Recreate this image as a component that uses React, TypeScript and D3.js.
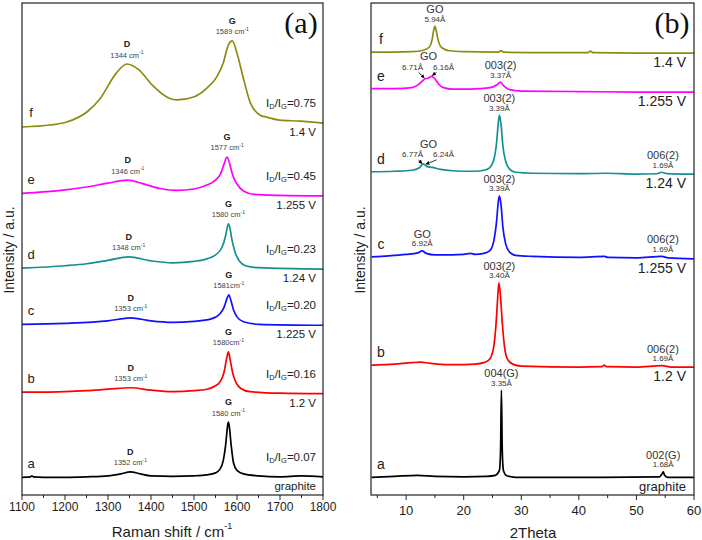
import React from 'react';
import * as d3 from 'd3';

type Pt = [number, number];

// ---------- Panel (a): Raman spectra [Raman shift (cm-1), intensity (a.u.)] ----------
const ramanA: Pt[] = [[1100,3.6],[1120,3.7],[1123,3.9],[1126,3.7],[1150,3.6],[1200,3.6],[1250,3.7],[1300,3.9],[1330,4.3],[1352,4.7],[1375,4.3],[1400,3.9],[1450,3.8],[1500,3.9],[1530,4.1],[1550,4.5],[1560,5.2],[1568,7.0],[1574,10.5],[1578,14.0],[1580,14.8],[1582,14.0],[1586,10.5],[1592,6.5],[1600,5.0],[1615,4.3],[1650,3.9],[1700,3.7],[1750,3.9],[1800,3.7]];
const ramanB: Pt[] = [[1100,20.9],[1150,20.9],[1200,21.0],[1250,21.2],[1300,21.5],[1353,21.8],[1400,21.3],[1450,21.0],[1500,21.2],[1530,21.5],[1550,22.2],[1562,23.2],[1570,25.0],[1576,27.8],[1580,29.1],[1584,27.5],[1590,24.8],[1598,22.8],[1610,21.6],[1630,21.0],[1700,20.7],[1800,20.6]];
const ramanC: Pt[] = [[1100,34.7],[1200,34.9],[1300,35.4],[1353,36.0],[1400,35.4],[1450,35.1],[1500,35.3],[1540,35.8],[1560,36.8],[1570,38.2],[1577,40.0],[1581,40.7],[1585,39.8],[1592,37.6],[1600,36.2],[1615,35.2],[1650,34.7],[1800,34.5]];
const ramanD: Pt[] = [[1100,46.1],[1200,46.6],[1250,47.0],[1300,47.7],[1348,48.4],[1400,47.6],[1450,47.2],[1500,47.5],[1530,48.0],[1550,48.8],[1565,50.3],[1573,52.5],[1578,54.6],[1580,55.1],[1583,54.5],[1588,52.0],[1595,49.5],[1605,47.6],[1620,46.6],[1650,46.2],[1800,45.9]];
const ramanE: Pt[] = [[1100,61.3],[1150,61.6],[1200,62.0],[1250,62.6],[1300,63.4],[1346,64.0],[1380,63.3],[1420,62.3],[1460,61.9],[1500,62.2],[1530,63.0],[1550,64.0],[1562,65.3],[1570,67.3],[1577,68.7],[1583,67.3],[1590,65.0],[1600,63.2],[1615,61.8],[1640,61.1],[1700,60.9],[1800,60.8]];
const ramanF: Pt[] = [[1100,74.8],[1165,75.2],[1204,75.8],[1253,78.0],[1281,80.5],[1318,85.6],[1344,87.6],[1372,86.4],[1403,83.3],[1441,80.7],[1460,80.3],[1499,80.9],[1530,82.7],[1553,85.0],[1568,87.8],[1580,91.5],[1589,92.3],[1600,89.8],[1616,84.3],[1631,79.7],[1654,77.2],[1669,76.8],[1700,76.2],[1746,76.0],[1800,75.6]];

const ramanSeries = [ramanA, ramanB, ramanC, ramanD, ramanE, ramanF];
const sampleLetters = ['a', 'b', 'c', 'd', 'e', 'f'];
const ramanConditions = ['graphite', '1.2 V', '1.225 V', '1.24 V', '1.255 V', '1.4 V'];
const ramanRatios = ['0.07', '0.16', '0.20', '0.23', '0.45', '0.75'];
const ramanDPeaks = [1352, 1353, 1353, 1348, 1346, 1344];
const ramanGPeaks = [1580, 1580, 1581, 1580, 1577, 1589];
const ramanDLabels = ['1352 cm', '1353 cm', '1353 cm', '1348 cm', '1346 cm', '1344 cm'];
const ramanGLabels = ['1580 cm', '1580cm', '1581cm', '1580 cm', '1577 cm', '1589 cm'];
const ramanTicks = [1100, 1200, 1300, 1400, 1500, 1600, 1700, 1800];

// ---------- Panel (b): XRD patterns [2Theta (deg), intensity (a.u.)] ----------
const xrdA: Pt[] = [[4,3.6],[8,3.8],[12,4.0],[15,3.8],[20,3.7],[24,3.8],[25.5,4.0],[26.2,5.0],[26.4,9.0],[26.55,21.3],[26.7,9.0],[26.9,5.0],[27.5,3.9],[29,3.6],[40,3.6],[44,3.6],[54,3.7],[54.4,4.2],[54.65,4.7],[54.9,4.0],[55.4,3.6],[60,3.6]];
const xrdB: Pt[] = [[4,26.4],[8,26.6],[11,26.9],[12.5,27.0],[14,26.8],[17,26.5],[20,26.5],[22,26.6],[23.5,26.9],[24.5,27.6],[25.2,30.0],[25.6,34.5],[25.9,40.0],[26.1,43.1],[26.35,41.0],[26.7,35.0],[27.1,30.0],[27.6,27.6],[28.5,26.6],[30,26.2],[40,26.0],[44,26.1],[44.4,26.4],[44.8,26.1],[50,26.0],[54.5,26.3],[56,26.0],[60,26.0]];
const xrdC: Pt[] = [[4,48.4],[7,48.6],[10,48.9],[12,49.2],[12.8,49.6],[13.5,49.1],[15,48.8],[18,48.8],[20,48.9],[21.2,49.1],[22,48.9],[23.5,49.1],[24.5,49.6],[25.2,51.5],[25.7,55.5],[26.0,59.5],[26.2,60.8],[26.5,58.8],[26.8,54.5],[27.3,51.0],[28,49.3],[29,48.7],[32,48.5],[40,48.3],[44.5,48.5],[45,48.3],[50,48.2],[54.4,48.5],[55.5,48.2],[60,48.0]];
const xrdD: Pt[] = [[4,65.7],[8,65.8],[11,66.0],[12.3,66.5],[13.0,67.3],[13.6,66.8],[14.5,66.6],[16,66.2],[18,65.9],[20,65.8],[22,65.8],[23.5,66.0],[24.5,66.5],[25.2,68.0],[25.7,71.5],[26.0,75.5],[26.2,77.2],[26.5,75.2],[26.8,71.0],[27.3,67.8],[28,66.2],[29,65.6],[32,65.4],[40,65.3],[44.5,65.4],[50,65.2],[53.5,65.3],[54.4,65.6],[55.3,65.3],[60,65.2]];
const xrdE: Pt[] = [[4,82.6],[8,82.6],[11,82.8],[12,83.3],[12.7,84.0],[13.3,84.6],[13.8,84.7],[14.4,85.1],[15.0,84.6],[15.6,83.6],[16.5,82.8],[18,82.5],[21,82.5],[23,82.6],[25,82.9],[25.8,83.4],[26.4,83.9],[27,83.1],[28,82.4],[30,82.1],[40,82.0],[50,81.9],[60,81.9]];
const xrdF: Pt[] = [[4,90.0],[8,90.0],[11,90.1],[13,90.4],[14,91.0],[14.5,92.5],[14.8,94.5],[15.0,95.3],[15.2,94.5],[15.6,92.3],[16.2,90.9],[17.5,90.3],[20,90.1],[26,90.0],[26.5,90.3],[27,90.0],[35,89.9],[41.5,89.9],[42,90.2],[42.5,89.9],[50,89.8],[60,89.8]];

const xrdSeries = [xrdA, xrdB, xrdC, xrdD, xrdE, xrdF];
const xrdConditions = ['graphite', '1.2 V', '1.255 V', '1.24 V', '1.255 V', '1.4 V'];
const xrdTicks = [10, 20, 30, 40, 50, 60];
const xrdPeakSample = [5, 4, 3, 3, 2, 2, 2, 1, 1, 0, 0];
const xrdPeakPos = [15.0, 26.4, 26.2, 54.6, 12.8, 26.2, 54.6, 26.2, 54.6, 26.55, 54.65];
const xrdPeakNames = ['GO', '003(2)', '003(2)', '006(2)', 'GO', '003(2)', '006(2)', '003(2)', '006(2)', '004(G)', '002(G)'];
const xrdPeakD = ['5.94Å', '3.37Å', '3.39Å', '1.69Å', '6.92Å', '3.39Å', '1.69Å', '3.40Å', '1.69Å', '3.35Å', '1.68Å'];
// split GO reflections (samples e and d)
const goSample = [4, 3];
const goCenter = [13.9, 13.9];
const goLeftPeak = [13.3, 12.9];
const goRightPeak = [14.4, 13.3];
const goLeftD = ['6.71Å', '6.77Å'];
const goRightD = ['6.16Å', '6.24Å'];

const colors = ['#000000', '#ff0000', '#1010ff', '#159090', '#ff00ff', '#8c8c14'];
const FONT = 'Liberation Sans, Arial, sans-serif';

function peakVal(s: Pt[], pos: number, tol = 0.8): number {
  return d3.max(s.filter(d => Math.abs(d[0] - pos) <= tol), d => d[1]) ?? 0;
}
function valAt(s: Pt[], pos: number): number {
  for (let i = 0; i < s.length - 1; i++) {
    if (pos >= s[i][0] && pos <= s[i + 1][0]) {
      const t = (pos - s[i][0]) / (s[i + 1][0] - s[i][0]);
      return s[i][1] + t * (s[i + 1][1] - s[i][1]);
    }
  }
  return s[s.length - 1][1];
}

export default function App() {
  const top = 3, bottom = 495;
  const xA = d3.scaleLinear().domain([1100, 1800]).range([22, 323]);
  const xB = d3.scaleLinear().domain([3.9, 60]).range([371, 694]);
  const y = d3.scaleLinear().domain([0, 100]).range([bottom, top]);
  const lineA = d3.line<Pt>().x(d => xA(d[0])).y(d => y(d[1])).curve(d3.curveMonotoneX);
  const lineB = d3.line<Pt>().x(d => xB(d[0])).y(d => y(d[1])).curve(d3.curveMonotoneX);
  const minorA = d3.range(1150, 1800, 100);
  const minorB = d3.range(5, 60, 10);
  const sub = (t: string) => <tspan fontSize={7.5} dy={3}>{t}</tspan>;

  return (
    <svg width={702} height={540} style={{ position: 'absolute', left: 0, top: 0, background: '#fff' }} fontFamily={FONT}>
      <defs>
        <marker id="arr" viewBox="0 0 6 6" refX={5} refY={3} markerWidth={5} markerHeight={5} orient="auto">
          <path d="M0,0 L6,3 L0,6 z" fill="#000" />
        </marker>
      </defs>
      <rect width={702} height={540} fill="#fff" />

      {/* ---------------- Panel (a) ---------------- */}
      <g>
        {ramanSeries.map((s, i) => (
          <path key={i} d={lineA(s) ?? ''} fill="none" stroke={colors[i]} strokeWidth={1.7} />
        ))}
        {ramanSeries.map((s, i) => {
          const last = y(s[s.length - 1][1]);
          const first = y(s[0][1]);
          const dY = y(peakVal(s, ramanDPeaks[i], 15));
          const gY = y(peakVal(s, ramanGPeaks[i], 5));
          return (
            <g key={'la' + i}>
              <text x={31} y={first - 14} fontSize={13} textAnchor="middle" dominantBaseline="central" fill="#222">{sampleLetters[i]}</text>
              <text x={316} y={last + 9} fontSize={11.5} textAnchor="end" dominantBaseline="central" fill="#222">{ramanConditions[i]}</text>
              <text x={316} y={last - 20} fontSize={11.5} textAnchor="end" dominantBaseline="central" fill="#222">
                I{sub('D')}<tspan dy={-3}>/I</tspan>{sub('G')}<tspan dy={-3}>={ramanRatios[i]}</tspan>
              </text>
              <text x={xA(ramanDPeaks[i])} y={dY - 20} fontSize={9} fontWeight="bold" textAnchor="middle" dominantBaseline="central" fill="#222">D</text>
              <text x={xA(ramanDPeaks[i])} y={dY - 9} fontSize={7.5} textAnchor="middle" dominantBaseline="central" fill="#444">
                {ramanDLabels[i]}<tspan fontSize={5} dy={-3}>-1</tspan>
              </text>
              <text x={xA(ramanGPeaks[i])} y={gY - 20} fontSize={9} fontWeight="bold" textAnchor="middle" dominantBaseline="central" fill="#222">G</text>
              <text x={xA(ramanGPeaks[i])} y={gY - 9} fontSize={7.5} textAnchor="middle" dominantBaseline="central" fill="#444">
                {ramanGLabels[i]}<tspan fontSize={5} dy={-3}>-1</tspan>
              </text>
            </g>
          );
        })}
        <rect x={22} y={top} width={301} height={bottom - top} fill="none" stroke="#222" strokeWidth={1.2} />
        {ramanTicks.map(t => (
          <g key={'ta' + t}>
            <line x1={xA(t)} x2={xA(t)} y1={bottom} y2={bottom + 5} stroke="#222" />
            <text x={xA(t)} y={bottom + 12} fontSize={12} textAnchor="middle" dominantBaseline="central" fill="#222">{t}</text>
          </g>
        ))}
        {minorA.map(t => (
          <line key={'ma' + t} x1={xA(t)} x2={xA(t)} y1={bottom} y2={bottom + 3} stroke="#222" />
        ))}
        <text x={172} y={531} fontSize={15} textAnchor="middle" dominantBaseline="central" fill="#222">
          Raman shift / cm<tspan fontSize={9} dy={-5}>-1</tspan>
        </text>
        <text transform="translate(9,250) rotate(-90)" fontSize={14} textAnchor="middle" dominantBaseline="central" fill="#222">Intensity / a.u.</text>
        <text x={301} y={22} fontSize={30} fontFamily="Liberation Serif, Times New Roman, serif" textAnchor="middle" dominantBaseline="central" fill="#111">(a)</text>
      </g>

      {/* ---------------- Panel (b) ---------------- */}
      <g>
        {xrdSeries.map((s, i) => (
          <path key={i} d={lineB(s) ?? ''} fill="none" stroke={colors[i]} strokeWidth={1.7} />
        ))}
        {xrdSeries.map((s, i) => {
          const last = y(s[s.length - 1][1]);
          const first = y(s[0][1]);
          return (
            <g key={'lb' + i}>
              <text x={381} y={first - 13} fontSize={14} textAnchor="middle" dominantBaseline="central" fill="#222">{sampleLetters[i]}</text>
              <text x={686} y={last + 9} fontSize={i === 0 ? 13 : 14} textAnchor="end" dominantBaseline="central" fill="#222">{xrdConditions[i]}</text>
            </g>
          );
        })}
        {xrdPeakNames.map((n, k) => {
          const s = xrdSeries[xrdPeakSample[k]];
          const py = y(peakVal(s, xrdPeakPos[k], 0.8));
          const x = xB(xrdPeakPos[k]);
          return (
            <g key={'pk' + k}>
              <text x={x} y={py - 17} fontSize={11} textAnchor="middle" dominantBaseline="central" fill="#333">{n}</text>
              <text x={x} y={py - 7} fontSize={8} textAnchor="middle" dominantBaseline="central" fill="#333">{xrdPeakD[k]}</text>
            </g>
          );
        })}
        {goSample.map((si, k) => {
          const s = xrdSeries[si];
          const py = y(peakVal(s, goCenter[k], 1.0));
          const cx = xB(goCenter[k]);
          const lx = xB(goLeftPeak[k]);
          const rx = xB(goRightPeak[k]);
          const ly = y(valAt(s, goLeftPeak[k]));
          const ry = y(valAt(s, goRightPeak[k]));
          return (
            <g key={'go' + k}>
              <text x={cx} y={py - 20} fontSize={11} textAnchor="middle" dominantBaseline="central" fill="#333">GO</text>
              <text x={cx - 16} y={py - 9} fontSize={8} textAnchor="middle" dominantBaseline="central" fill="#333">{goLeftD[k]}</text>
              <text x={cx + 15} y={py - 9} fontSize={8} textAnchor="middle" dominantBaseline="central" fill="#333">{goRightD[k]}</text>
              <line x1={cx - 10} y1={py - 4} x2={lx - 1} y2={ly - 1} stroke="#000" strokeWidth={0.8} markerEnd="url(#arr)" />
              <line x1={cx + 8} y1={py - 4} x2={rx + 1} y2={ry - 1} stroke="#000" strokeWidth={0.8} markerEnd="url(#arr)" />
            </g>
          );
        })}
        <rect x={371} y={top} width={323} height={bottom - top} fill="none" stroke="#222" strokeWidth={1.2} />
        {xrdTicks.map(t => (
          <g key={'tb' + t}>
            <line x1={xB(t)} x2={xB(t)} y1={bottom} y2={bottom + 5} stroke="#222" />
            <text x={xB(t)} y={bottom + 15} fontSize={13} textAnchor="middle" dominantBaseline="central" fill="#222">{t}</text>
          </g>
        ))}
        {minorB.map(t => (
          <line key={'mb' + t} x1={xB(t)} x2={xB(t)} y1={bottom} y2={bottom + 3} stroke="#222" />
        ))}
        <text x={533} y={532} fontSize={15} textAnchor="middle" dominantBaseline="central" fill="#222">2Theta</text>
        <text transform="translate(360,250) rotate(-90)" fontSize={14} textAnchor="middle" dominantBaseline="central" fill="#222">Intensity / a.u.</text>
        <text x={672} y={22} fontSize={30} fontFamily="Liberation Serif, Times New Roman, serif" textAnchor="middle" dominantBaseline="central" fill="#111">(b)</text>
      </g>
    </svg>
  );
}
